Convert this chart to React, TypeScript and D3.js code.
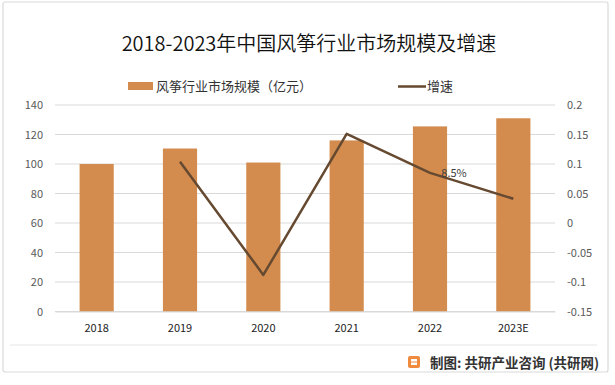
import React, { useEffect, useRef } from 'react';
import * as d3 from 'd3';

const years = ['2018', '2019', '2020', '2021', '2022', '2023E'];
const marketSize = [100, 110.5, 101, 116, 125.5, 131];
const growth: (number | null)[] = [null, 0.104, -0.088, 0.151, 0.085, 0.041];
const leftTicks = [0, 20, 40, 60, 80, 100, 120, 140];
const rightTicks = [-0.15, -0.1, -0.05, 0, 0.05, 0.1, 0.15, 0.2];
const labelIndex = 4;
const labelText = '8.5%';

const W = 615;
const H = 385;
const BAR = '#D48C4E';
const LINE = '#654930';
const FONT = '"Noto Sans CJK SC", "Noto Sans", sans-serif';

export default function App() {
  const ref = useRef<SVGSVGElement>(null);

  useEffect(() => {
    const svg = d3.select(ref.current);
    svg.selectAll('*').remove();

    const left = 55, right = 555, top = 105, bottom = 311.5;

    const x = d3.scaleBand().domain(years).range([left, right]).paddingInner(0.59).paddingOuter(0.295);
    const xc = (d: string) => (x(d) as number) + x.bandwidth() / 2;
    const yL = d3.scaleLinear().domain([0, 140]).range([bottom, top]);
    const yR = d3.scaleLinear().domain([-0.15, 0.2]).range([bottom, top]);

    // outer frame
    svg.append('rect')
      .attr('x', 3).attr('y', 2).attr('width', 605).attr('height', 370)
      .attr('fill', '#fff').attr('stroke', '#d9d9d9').attr('stroke-width', 1.2).attr('rx', 2);
    svg.append('line')
      .attr('x1', 10).attr('x2', 597).attr('y1', 345).attr('y2', 345)
      .attr('stroke', '#e6e6e6');

    // title
    svg.append('text')
      .attr('x', 309).attr('y', 51)
      .attr('text-anchor', 'middle')
      .style('font-family', FONT).style('font-size', '20px').style('font-weight', 350).attr('fill', '#111')
      .text('2018-2023年中国风筝行业市场规模及增速');

    // legend
    svg.append('rect').attr('x', 128).attr('y', 82).attr('width', 25).attr('height', 8).attr('fill', BAR);
    svg.append('text').attr('x', 156).attr('y', 91)
      .style('font-family', FONT).style('font-size', '13px').attr('fill', '#333')
      .text('风筝行业市场规模（亿元）');
    svg.append('line').attr('x1', 398).attr('x2', 426).attr('y1', 86.5).attr('y2', 86.5)
      .attr('stroke', LINE).attr('stroke-width', 2.5);
    svg.append('text').attr('x', 427).attr('y', 91)
      .style('font-family', FONT).style('font-size', '13px').attr('fill', '#333')
      .text('增速');

    // grid
    svg.append('g').selectAll('line').data(leftTicks).enter().append('line')
      .attr('x1', left).attr('x2', right)
      .attr('y1', d => yL(d)).attr('y2', d => yL(d))
      .attr('stroke', '#d9d9d9').attr('stroke-width', 1);

    // left axis
    const gl = svg.append('g').attr('transform', `translate(${left},0)`)
      .call(d3.axisLeft(yL).tickValues(leftTicks).tickSize(0).tickPadding(12));
    gl.select('.domain').remove();
    gl.selectAll('text').style('font-family', FONT).style('font-size', '11px').attr('fill', '#595959');

    // right axis
    const gr = svg.append('g').attr('transform', `translate(${right},0)`)
      .call(d3.axisRight(yR).tickValues(rightTicks).tickSize(0).tickPadding(12)
        .tickFormat(d => String(+(+d).toFixed(2))));
    gr.select('.domain').remove();
    gr.selectAll('text').style('font-family', FONT).style('font-size', '11px').attr('fill', '#595959');

    // bars
    svg.append('g').selectAll('rect').data(marketSize).enter().append('rect')
      .attr('x', (d, i) => x(years[i]) as number)
      .attr('width', x.bandwidth())
      .attr('y', d => yL(d))
      .attr('height', d => bottom - yL(d))
      .attr('fill', BAR);

    // x axis
    const gx = svg.append('g').attr('transform', `translate(0,${bottom})`)
      .call(d3.axisBottom(x).tickSize(0).tickPadding(13));
    gx.select('.domain').attr('stroke', '#d9d9d9');
    gx.selectAll('text').style('font-family', FONT).style('font-size', '11px').attr('fill', '#222');

    // growth line
    const pts = growth.map((g, i) => ({ x: xc(years[i]), g })).filter(p => p.g !== null) as { x: number; g: number }[];
    const line = d3.line<{ x: number; g: number }>().x(d => d.x).y(d => yR(d.g));
    svg.append('path').datum(pts).attr('d', line)
      .attr('fill', 'none').attr('stroke', LINE).attr('stroke-width', 2.5).attr('stroke-linejoin', 'round');

    svg.append('text')
      .attr('x', xc(years[labelIndex]) + 24).attr('y', yR(growth[labelIndex] as number) + 4)
      .attr('text-anchor', 'middle')
      .style('font-family', FONT).style('font-size', '11px').attr('fill', '#404040')
      .text(labelText);

    // footer
    const fg = svg.append('g').attr('transform', 'translate(408,356)');
    fg.append('rect').attr('width', 12).attr('height', 12).attr('rx', 2).attr('fill', '#F08A3C');
    fg.append('rect').attr('x', 3).attr('y', 3).attr('width', 6).attr('height', 2.5).attr('fill', '#fff');
    fg.append('rect').attr('x', 3).attr('y', 6.5).attr('width', 6).attr('height', 2.5).attr('fill', '#fff');
    svg.append('text').attr('x', 430).attr('y', 368)
      .style('font-family', FONT).style('font-size', '13.5px').style('font-weight', 600).attr('fill', '#333')
      .text('制图: 共研产业咨询 (共研网)');
  }, []);

  return (
    <div style={{ position: 'absolute', left: 0, top: 0 }}>
      <svg ref={ref} width={W} height={H} style={{ display: 'block' }} />
    </div>
  );
}
